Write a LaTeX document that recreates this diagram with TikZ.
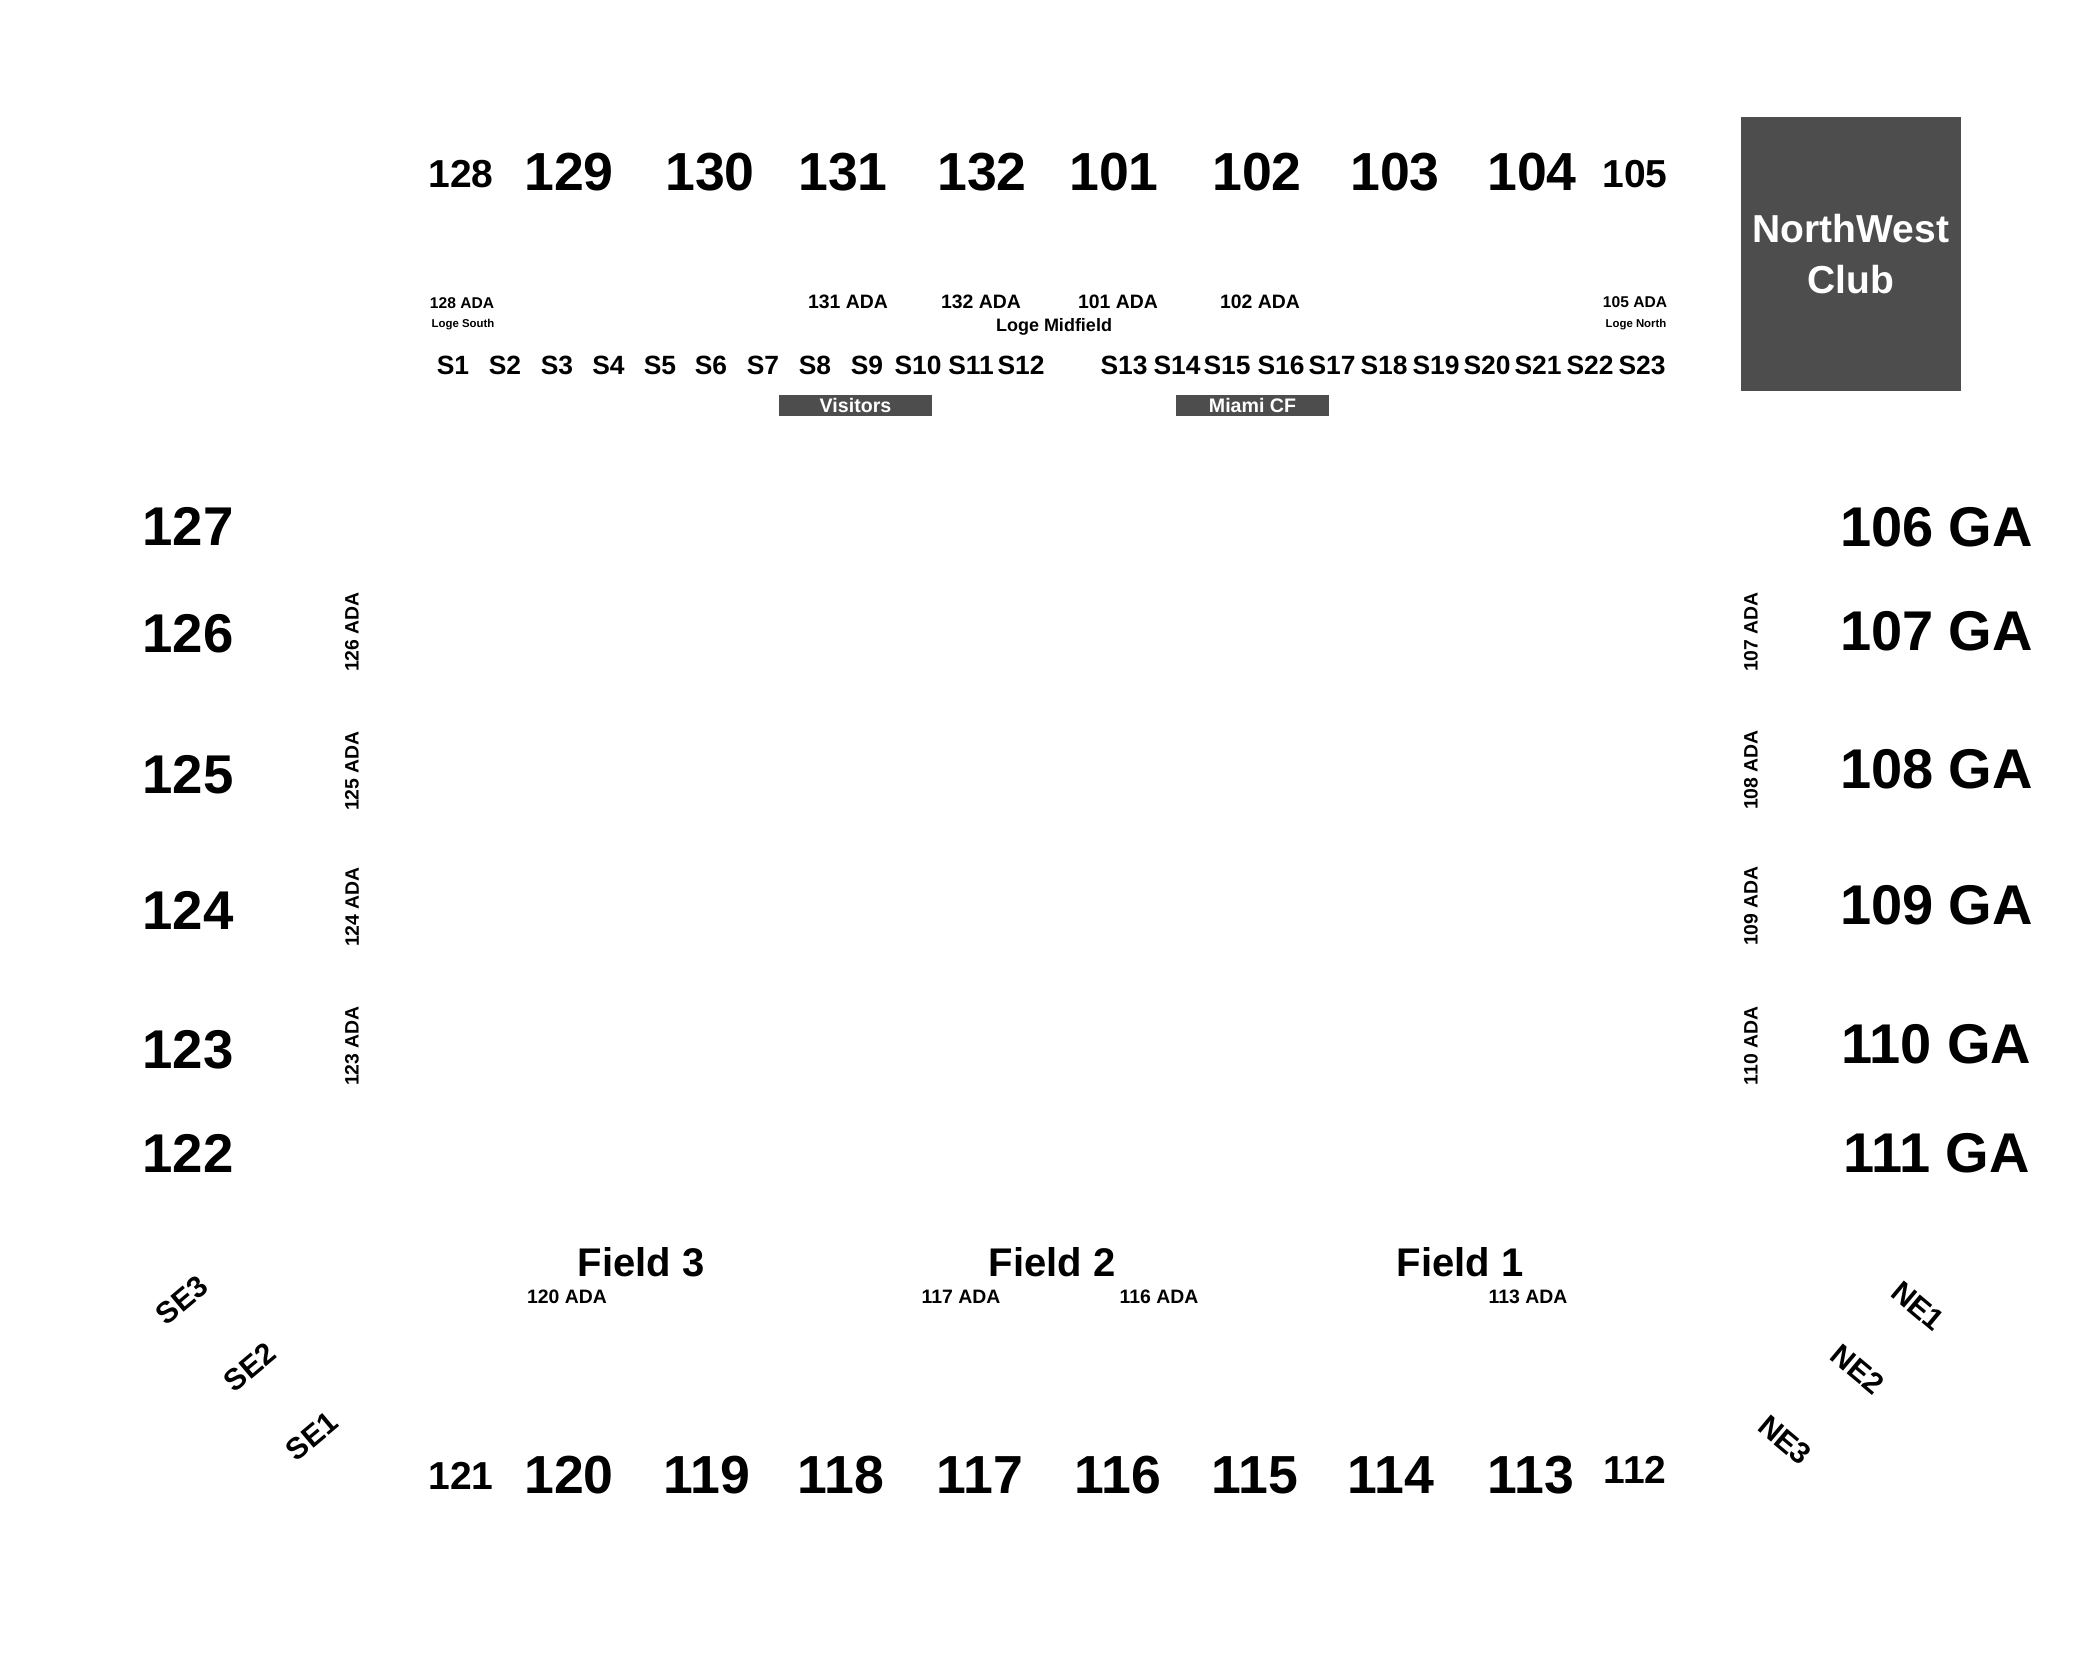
\documentclass[tikz,border=0pt]{standalone}
\usepackage{fontspec}
\setmainfont{Liberation Sans}
\definecolor{boxgray}{RGB}{77,77,77}
\begin{document}
\begin{tikzpicture}[x=0.5pt,y=-0.5pt,
  lbl/.style={inner sep=0pt, font=\bfseries\fontsize{#1}{#1}\selectfont},
  bignum/.style={lbl=26.8},
  smallnum/.style={lbl=19.5},
  sidenum/.style={lbl=27.3},
  ganum/.style={lbl=28},
  adalbl/.style={lbl=9.7},
  smallada/.style={lbl=7.8},
  logesmall/.style={lbl=5.7},
  seat/.style={lbl=13.2},
  fieldlbl/.style={lbl=20},
  cornerlbl/.style={lbl=15},
  grayblock/.style={fill=boxgray, text=white, inner sep=0pt, font=\bfseries\fontsize{9.8}{9.8}\selectfont}
]
\useasboundingbox (0,0) rectangle (2100,1676);

% top row
\foreach \n/\x in {129/569,130/710,131/843,132/982,101/1114,102/1257,103/1395,104/1532}
  \node[bignum,anchor=base] (t\n) at (\x,190) {\n};
\node[smallnum,anchor=base] (t128) at (461,187) {128};
\node[smallnum,anchor=base] (t105) at (1635,187) {105};

% ADA row
\node[smallada,anchor=base] (a128) at (462,308) {128 ADA};
\foreach \n/\x in {131/848,132/981,101/1118,102/1260}
  \node[adalbl,anchor=base] (a\n) at (\x,308) {\n{} ADA};
\node[smallada,anchor=base] (a105) at (1635,307) {105 ADA};

\node[logesmall,anchor=base] (lsouth) at (463,327) {Loge South};
\node[lbl=9,anchor=base] (lmid) at (1054,331) {Loge Midfield};
\node[logesmall,anchor=base] (lnorth) at (1636,327) {Loge North};

% S row
\foreach \s/\x in {1/453,2/505,3/557,4/608.5,5/660,6/711,7/763,8/815,9/867,10/918,11/971,12/1021,13/1124,14/1177,15/1227,16/1281,17/1332,18/1384,19/1436,20/1487,21/1538,22/1590,23/1642}
  \node[seat,anchor=base] (s\s) at (\x,374) {S\s};

\node[grayblock, minimum width=76.5pt, minimum height=10.5pt] (vis) at (855.5,405.5) {Visitors};
\node[grayblock, minimum width=76.5pt, minimum height=10.5pt] (miami) at (1252.5,405.5) {Miami CF};

\node[fill=boxgray, text=white, inner sep=0pt, minimum width=110pt, minimum height=137.25pt,
  align=center, font=\bfseries\fontsize{19.5}{25.5}\selectfont] (club) at (1851,253.75) {NorthWest\\Club};

% left side
\foreach \n/\y in {127/526,126/634,125/775,124/910,123/1050,122/1153}
  \node[sidenum] (l\n) at (188,\y) {\n};
\foreach \n/\y in {126/632,125/771,124/907,123/1046}
  \node[adalbl,rotate=90] (la\n) at (352,\y) {\n{} ADA};

% right side
\foreach \n/\y in {106/527,107/631,108/769,109/905,110/1044,111/1153}
  \node[ganum] (r\n) at (1936.5,\y) {\n{} GA};
\foreach \n/\y in {107/632,108/770,109/906,110/1046}
  \node[adalbl,rotate=90] (ra\n) at (1751,\y) {\n{} ADA};

% fields
\node[fieldlbl] (f3) at (641,1262) {Field 3};
\node[fieldlbl] (f2) at (1052,1262) {Field 2};
\node[fieldlbl] (f1) at (1460,1262) {Field 1};
\node[adalbl] (b120) at (567,1297) {120 ADA};
\node[adalbl] (b117) at (961,1297) {117 ADA};
\node[adalbl] (b116) at (1159,1297) {116 ADA};
\node[adalbl] (b113) at (1528,1297) {113 ADA};

% corners
\node[cornerlbl,rotate=40] (se3) at (182,1300) {SE3};
\node[cornerlbl,rotate=40] (se2) at (250,1367) {SE2};
\node[cornerlbl,rotate=40] (se1) at (312,1436) {SE1};
\node[cornerlbl,rotate=-40] (ne1) at (1918,1306) {NE1};
\node[cornerlbl,rotate=-40] (ne2) at (1858,1369) {NE2};
\node[cornerlbl,rotate=-40] (ne3) at (1785,1440) {NE3};

% bottom row
\node[smallnum] (n121) at (461,1476) {121};
\foreach \n/\x in {120/569,119/707,118/841,117/980,116/1118,115/1255,114/1391,113/1531}
  \node[bignum] (n\n) at (\x,1475) {\n};
\node[smallnum] (n112) at (1635,1470) {112};
\end{tikzpicture}
\end{document}
